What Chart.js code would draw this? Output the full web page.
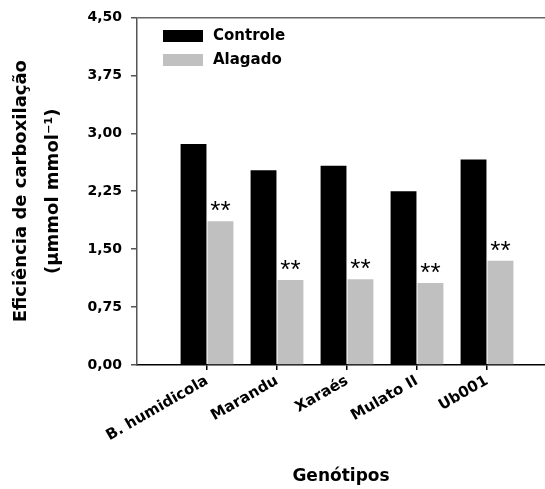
<!DOCTYPE html>
<html>
<head>
<meta charset="utf-8">
<script src="https://cdn.jsdelivr.net/npm/chart.js@4"></script>
<style>
  body { margin: 0; background: #fff; }
</style>
</head>
<body>
<canvas id="graficoEficiencia" width="545" height="489"></canvas>
<script>
// dados
const genotipos = ['B. humidicola', 'Marandu', 'Xaraés', 'Mulato II', 'Ub001'];
const controle = [2.86, 2.52, 2.58, 2.25, 2.66];
const alagado = [1.86, 1.10, 1.11, 1.06, 1.35];
const significancia = ['**', '**', '**', '**', '**'];
const ticksY = [0, 0.75, 1.5, 2.25, 3, 3.75, 4.5];

Chart.defaults.font.family = "'DejaVu Sans', sans-serif";
Chart.defaults.color = '#000';

// legenda dentro da área do gráfico
const legendaInterna = {
    id: 'legendaInterna',
    afterDraw(chart) {
        const ctx = chart.ctx;
        ctx.save();
        ctx.font = "bold 15px 'DejaVu Sans'";
        ctx.textBaseline = 'middle';
        chart.data.datasets.forEach((ds, i) => {
            const y = 36 + i * 24;
            ctx.fillStyle = ds.backgroundColor;
            ctx.fillRect(163, y - 6, 40, 12);
            ctx.fillStyle = '#000';
            ctx.fillText(ds.label, 213, y);
        });
        ctx.restore();
    }
};

// asteriscos acima das barras do alagado
const asteriscos = {
    id: 'asteriscos',
    afterDatasetsDraw(chart) {
        const ctx = chart.ctx;
        const meta = chart.getDatasetMeta(1);
        ctx.save();
        ctx.font = "26px 'Liberation Sans'";
        ctx.textAlign = 'center';
        ctx.textBaseline = 'alphabetic';
        ctx.fillStyle = '#000';
        meta.data.forEach((bar, i) => {
            ctx.fillText(significancia[i], bar.x, bar.y - 2);
        });
        ctx.restore();
    }
};

new Chart(document.getElementById('graficoEficiencia'), {
    type: 'bar',
    data: {
        datasets: [
            {
                label: 'Controle',
                data: controle.map((v, i) => ({ x: i + 1, y: v })),
                backgroundColor: '#000000'
            },
            {
                label: 'Alagado',
                data: alagado.map((v, i) => ({ x: i + 1, y: v })),
                backgroundColor: '#c0c0c0'
            }
        ]
    },
    options: {
        responsive: false,
        animation: false,
        devicePixelRatio: 1,
        layout: { padding: { left: 0, right: 0, top: 15, bottom: 0 } },
        categoryPercentage: 0.77,
        barPercentage: 0.96,
        plugins: {
            legend: { display: false },
            tooltip: { enabled: false }
        },
        scales: {
            x: {
                type: 'linear',
                offset: false,
                min: 0,
                max: 408 / 70,
                afterBuildTicks: (scale) => {
                    scale.ticks = genotipos.map((g, i) => ({ value: i + 1 }));
                },
                afterFit: (scale) => {
                    scale.height = 124;
                    scale.paddingLeft = 0;
                    scale.paddingRight = 0;
                },
                border: { display: true, color: '#000', width: 1.5 },
                grid: { offset: false, drawOnChartArea: false, tickColor: '#000', tickLength: 5, lineWidth: 1.5 },
                ticks: {
                    autoSkip: false,
                    minRotation: 30,
                    maxRotation: 30,
                    padding: 2,
                    font: { size: 15, weight: 'bold' },
                    callback: (value) => genotipos[value - 1]
                },
                title: {
                    display: true,
                    text: 'Genótipos',
                    font: { size: 17, weight: 'bold' },
                    padding: { top: 0, bottom: 2 }
                }
            },
            y: {
                min: 0,
                max: 4.5,
                afterBuildTicks: (scale) => {
                    scale.ticks = ticksY.map(v => ({ value: v }));
                },
                afterFit: (scale) => {
                    scale.width = 137;
                },
                border: { display: true, color: '#555', width: 1.5 },
                grid: {
                    drawOnChartArea: true,
                    color: (ctx) => ctx.tick && ctx.tick.value === 4.5 ? '#666' : 'rgba(0,0,0,0)',
                    tickColor: '#555',
                    tickLength: 6,
                    lineWidth: 1.5
                },
                ticks: {
                    padding: 9,
                    font: { size: 14, weight: 'bold' },
                    callback: (value) => value.toFixed(2).replace('.', ',')
                },
                title: {
                    display: true,
                    text: ['Eficiência de carboxilação', '(μmmol mmol⁻¹)'],
                    font: { size: 18, weight: 'bold', lineHeight: 1.75 },
                    padding: { top: 6, bottom: 0 }
                }
            }
        }
    },
    plugins: [legendaInterna, asteriscos]
});
</script>
</body>
</html>
